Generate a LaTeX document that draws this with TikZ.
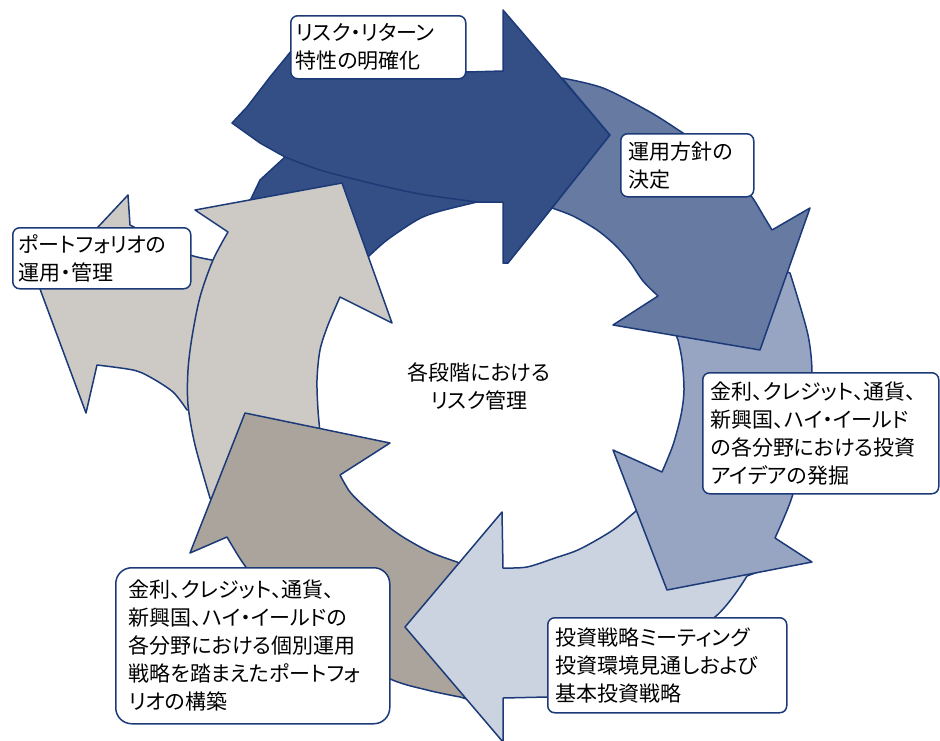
\documentclass[tikz,border=0pt]{standalone}
\usepackage{fontspec}
\newfontfamily\jp[RawFeature=+palt]{Noto Sans CJK JP}
\definecolor{edgec}{HTML}{1C3A78}
\definecolor{cA}{HTML}{334F85}
\definecolor{cB}{HTML}{667AA2}
\definecolor{cC}{HTML}{97A5C3}
\definecolor{cD}{HTML}{CBD3E1}
\definecolor{cE}{HTML}{AAA49C}
\definecolor{cF}{HTML}{CDCAC5}
\tikzset{
  shp/.style={draw=edgec, line width=1.5pt, line join=round},
  lbl/.style={draw=edgec, line width=1.5pt, fill=white, rounded corners=7pt, anchor=north west, align=left, inner ysep=0pt, font=\jp\fontsize{21}{28}\selectfont},
  ctext/.style={align=center, inner sep=0pt, font=\jp\fontsize{21}{28}\selectfont}
}
\begin{document}
\begin{tikzpicture}[x=1pt,y=-1pt]
\useasboundingbox (0,0) rectangle (940,740);
\clip (0,0) rectangle (940,740);
% dark blue arrow
\path[shp, fill=cA] (300,40) -- (288,55) -- (270,77) -- (247,107) -- (232,123) -- (260,143) -- (285,157) -- (260,180) -- (248,205) -- (320,240) -- (360,262)
  -- plot[smooth] coordinates {(368,257) (387,240) (417,220) (437,212) (477,202)}
  -- (503,202) -- (503,263) -- (508,263) -- (552,208) -- (610,135) -- (503,10) -- (503,71) -- (467,72) -- (400,58) -- cycle;
\draw[edgec, line width=1.5pt] plot[smooth] coordinates {(285,157) (320,170) (370,183) (420,194) (477,202)};
% left gray head
\path[shp, fill=cF] (128,195) -- (130,225)
  -- plot[smooth] coordinates {(130,225) (165,243) (190,255) (212,260)}
  -- (240,300) -- (230,400) -- (187,410)
  -- plot[smooth] coordinates {(187,410) (173,392) (150,377) (133,370) (97,365)}
  -- (86,413) -- (40,289) -- cycle;
% gray arrow
\path[shp, fill=cF] (195,210) -- (342,183) -- (392,323) -- (340,297)
  -- plot[smooth] coordinates {(340,297) (328,325) (320,350) (317,380) (318,410) (320,432)}
  -- (330,470) -- (215,505)
  -- plot[smooth] coordinates {(210,498) (195,445) (188,405) (188,370) (192,337) (200,297) (213,260) (228,232)}
  -- cycle;
% taupe arrow
\path[shp, fill=cE] (245,413) -- (390,443) -- (340,475)
  -- plot[smooth] coordinates {(340,475) (350,492) (365,507) (385,524) (403,537) (430,552) (457,562)}
  -- (520,600) -- (470,700)
  -- plot[smooth] coordinates {(460,697) (427,690) (388,678) (320,640) (265,590) (243,563) (227,537)}
  -- (190,553) -- cycle;
% lightest blue arrow
\path[shp, fill=cD] (502,512) -- (503,568)
  -- plot[smooth] coordinates {(503,568) (527,567) (555,558) (580,549) (613,530) (637,510)}
  -- (700,470) -- (790,560) -- (747,576)
  -- plot[smooth] coordinates {(747,576) (715,617) (640,665) (560,694) (547,697)}
  -- (503,698) -- (503,742) -- (405,627) -- cycle;
% light blue arrow
\path[shp, fill=cC] (670,320)
  -- plot[smooth] coordinates {(678,340) (682,360) (684,390) (681,415) (673,445) (662,472)}
  -- (613,450) -- (667,590) -- (812,562) -- (775,538)
  -- plot[smooth] coordinates {(775,538) (792,497) (806,440) (812,380) (808,335) (790,273)}
  -- (760,262) -- (700,300) -- cycle;
% medium blue arrow
\path[shp, fill=cB] (562,78)
  -- plot[smooth] coordinates {(562,78) (603,88) (650,112) (683,133) (725,160) (752,197) (763,215) (772,230)}
  -- (810,208) -- (760,350) -- (613,325) -- (658,296)
  -- plot[smooth] coordinates {(658,296) (643,281) (630,262) (615,245) (597,230) (573,216) (552,208)}
  -- (610,135) -- cycle;
% labels
\node[lbl, inner xsep=5pt, text width=165pt, minimum height=63pt] (l1) at (290,15) {リスク・リターン\\特性の明確化};
\node[lbl, inner xsep=8pt, text width=117pt, minimum height=63pt] (l2) at (620,133) {運用方針の\\決定};
\node[lbl, inner xsep=6pt, text width=166pt, minimum height=61pt] (l3) at (12,227) {ポートフォリオの\\運用・管理};
\node[lbl, inner xsep=8pt, text width=220pt, minimum height=121pt] (l4) at (702,372) {金利、クレジット、通貨、\\新興国、ハイ・イールド\\の各分野における投資\\アイデアの発掘};
\node[lbl, inner xsep=8pt, text width=223pt, minimum height=95pt] (l5) at (547,617) {投資戦略ミーティング\\投資環境見通しおよび\\基本投資戦略};
\node[lbl, rounded corners=16pt, inner xsep=13pt, text width=248pt, minimum height=156pt] (l6) at (115,567) {金利、クレジット、通貨、\\新興国、ハイ・イールドの\\各分野における個別運用\\戦略を踏まえたポートフォ\\リオの構築};
\node[ctext] (ctr) at (479,386) {各段階における\\リスク管理};
\end{tikzpicture}
\end{document}
